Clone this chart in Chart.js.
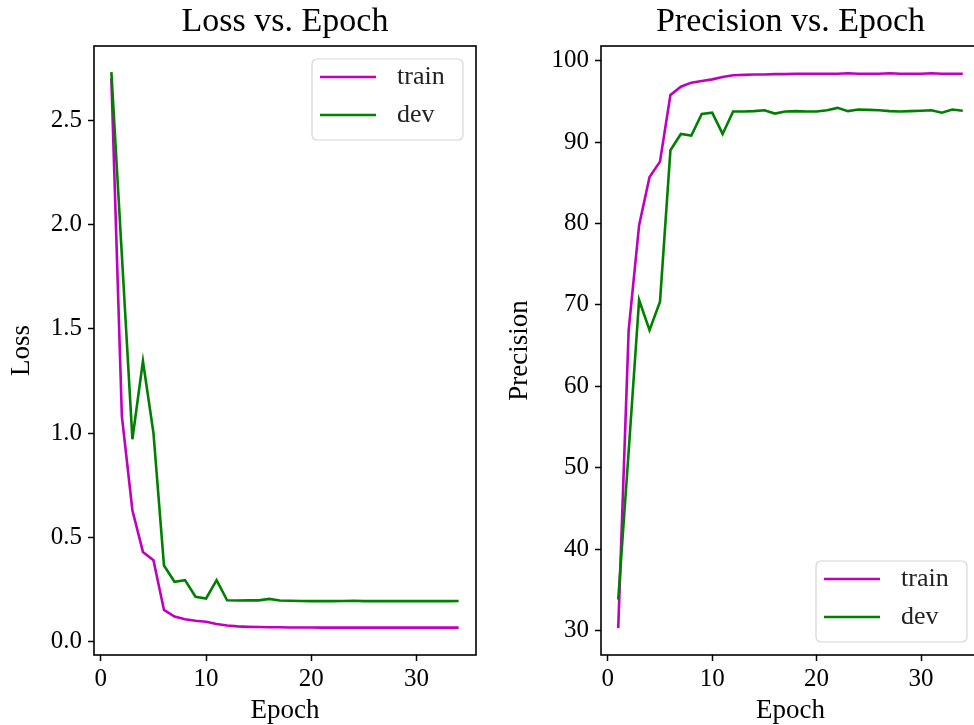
<!DOCTYPE html>
<html>
<head>
<meta charset="utf-8">
<script src="https://cdn.jsdelivr.net/npm/chart.js@4.4.1/dist/chart.umd.min.js"></script>
<style>
  html, body { margin:0; padding:0; background:#fff; overflow:hidden; width:974px; height:725px; }
  canvas { position:absolute; top:0; }
  #loss { left:0; }
  #prec { left:490px; }
</style>
</head>
<body>
<canvas id="loss" width="490" height="725"></canvas>
<canvas id="prec" width="500" height="725"></canvas>
<script>
// data
const EPOCHS = [1,2,3,4,5,6,7,8,9,10,11,12,13,14,15,16,17,18,19,20,21,22,23,24,25,26,27,28,29,30,31,32,33,34];

const LOSS_TRAIN = [2.70,1.08,0.63,0.43,0.39,0.152,0.12,0.107,0.10,0.095,0.085,0.077,0.073,0.071,0.070,0.069,0.069,0.068,0.068,0.068,0.067,0.067,0.067,0.067,0.067,0.067,0.067,0.067,0.067,0.067,0.067,0.067,0.067,0.067];
const LOSS_DEV   = [2.73,1.85,0.97,1.345,1.00,0.365,0.287,0.295,0.215,0.207,0.295,0.198,0.197,0.198,0.198,0.205,0.197,0.196,0.195,0.194,0.194,0.194,0.195,0.196,0.194,0.195,0.194,0.195,0.194,0.194,0.195,0.194,0.194,0.195];

const PREC_TRAIN = [30.3,66.9,79.8,85.7,87.6,95.8,96.8,97.3,97.5,97.7,98.0,98.2,98.25,98.3,98.3,98.35,98.35,98.4,98.4,98.4,98.4,98.4,98.45,98.4,98.4,98.4,98.45,98.4,98.4,98.4,98.45,98.4,98.4,98.4];
const PREC_DEV   = [33.8,52.0,70.6,66.9,70.4,89.0,91.0,90.8,93.45,93.6,91.0,93.75,93.75,93.8,93.9,93.5,93.75,93.8,93.75,93.75,93.9,94.2,93.8,94.0,93.95,93.9,93.8,93.75,93.8,93.85,93.9,93.6,94.0,93.85];

const X_TICKS    = [0,10,20,30];
const LOSS_TICKS = [0,0.5,1.0,1.5,2.0,2.5];
const PREC_TICKS = [30,40,50,60,70,80,90,100];

const FONT = "'Liberation Serif', 'DejaVu Serif', serif";
const C = { train:'#bf00bf', dev:'#008000' };

// matplotlib-style frame round the axes + title centred over the axes
const frame = {
    id:'frame',
    afterDatasetsDraw(chart, args, o) {
        const {ctx, chartArea:a} = chart;
        ctx.save();
        ctx.strokeStyle = '#000'; ctx.lineWidth = 1.6;
        ctx.strokeRect(a.left, a.top, a.right - a.left, a.bottom - a.top);
        ctx.fillStyle = '#000'; ctx.font = '34px ' + FONT;
        ctx.textAlign = 'center'; ctx.textBaseline = 'alphabetic';
        ctx.fillText(o.title, (a.left + a.right) / 2, 31);
        ctx.restore();
    }
};

// boxed legend inside the axes
const boxLegend = {
    id:'boxLegend',
    afterDraw(chart, args, o) {
        const {ctx, chartArea:a} = chart;
        const w = 151, h = 81, gap = 13;
        const x = a.right - gap - w;
        const y = o.corner === 'bottom' ? a.bottom - gap - h : a.top + gap;
        ctx.save();
        ctx.fillStyle = 'rgba(255,255,255,0.8)';
        ctx.strokeStyle = '#d6d6d6'; ctx.lineWidth = 1.2;
        ctx.beginPath(); ctx.roundRect(x, y, w, h, 5); ctx.fill(); ctx.stroke();
        chart.data.datasets.forEach((ds, i) => {
            const cy = y + 18 + i * 38;
            ctx.strokeStyle = ds.borderColor; ctx.lineWidth = ds.borderWidth;
            ctx.beginPath(); ctx.moveTo(x + 8, cy); ctx.lineTo(x + 64, cy); ctx.stroke();
            ctx.fillStyle = '#222'; ctx.font = '26px ' + FONT; ctx.textBaseline = 'middle';
            ctx.fillText(ds.label, x + 85, cy);
        });
        ctx.restore();
    }
};

function pts(ys) { return EPOCHS.map((e, i) => ({x:e, y:ys[i]})); }

// order: dev (0) is drawn on top of train (1), as in the reference
function lineDS(label, ys, color, order) {
    return {label, data:pts(ys), borderColor:color, borderWidth:2.6, pointRadius:0, tension:0, fill:false, order};
}

function axisCfg(o) {
    return {
        type:'linear', min:o.min, max:o.max,
        afterBuildTicks: s => { s.ticks = o.ticks.map(v => ({value:v})); },
        afterFit: o.fit,
        grid:{drawOnChartArea:false, drawTicks:true, tickLength:6, tickWidth:1.5, tickColor:'#000'},
        border:{display:false},
        ticks:{color:'#000', font:{family:FONT, size:25}, padding:o.pad, maxRotation:0, callback:o.fmt},
        title:{display:true, text:o.title, color:'#000', font:{family:FONT, size:27, lineHeight:1}, padding:o.tpad}
    };
}

function mk(id, cfg) {
    return new Chart(document.getElementById(id), {
        type:'line',
        data:{datasets:cfg.datasets},
        options:{
            responsive:false, animation:false,
            layout:{padding:{top:46, right:cfg.padRight, bottom:0, left:0}},
            plugins:{
                legend:{display:false}, tooltip:{enabled:false}, title:{display:false},
                frame:{title:cfg.title},
                boxLegend:{corner:cfg.corner}
            },
            scales:{
                x: axisCfg({min:-0.65, max:35.65, ticks:X_TICKS, title:'Epoch', pad:3,
                            fit: s => { s.height = 70; }, tpad:{top:0, bottom:1}}),
                y: axisCfg({min:cfg.ymin, max:cfg.ymax, ticks:cfg.yticks, title:cfg.ylabel, pad:6, fmt:cfg.fmt,
                            fit: s => { s.width = cfg.yWidth; }, tpad:{top:cfg.ytpad, bottom:0}})
            }
        },
        plugins:[frame, boxLegend]
    });
}

mk('loss', {
    title:'Loss vs. Epoch', ylabel:'Loss', corner:'top',
    ymin:-0.064, ymax:2.855, yticks:LOSS_TICKS, fmt:v => v.toFixed(1),
    yWidth:94, ytpad:8, padRight:14,
    datasets:[lineDS('train', LOSS_TRAIN, C.train, 1), lineDS('dev', LOSS_DEV, C.dev, 0)]
});

mk('prec', {
    title:'Precision vs. Epoch', ylabel:'Precision', corner:'bottom',
    ymin:27.0, ymax:101.8, yticks:PREC_TICKS, fmt:v => String(v),
    yWidth:111, ytpad:16, padRight:10,
    datasets:[lineDS('train', PREC_TRAIN, C.train, 1), lineDS('dev', PREC_DEV, C.dev, 0)]
});
</script>
</body>
</html>
